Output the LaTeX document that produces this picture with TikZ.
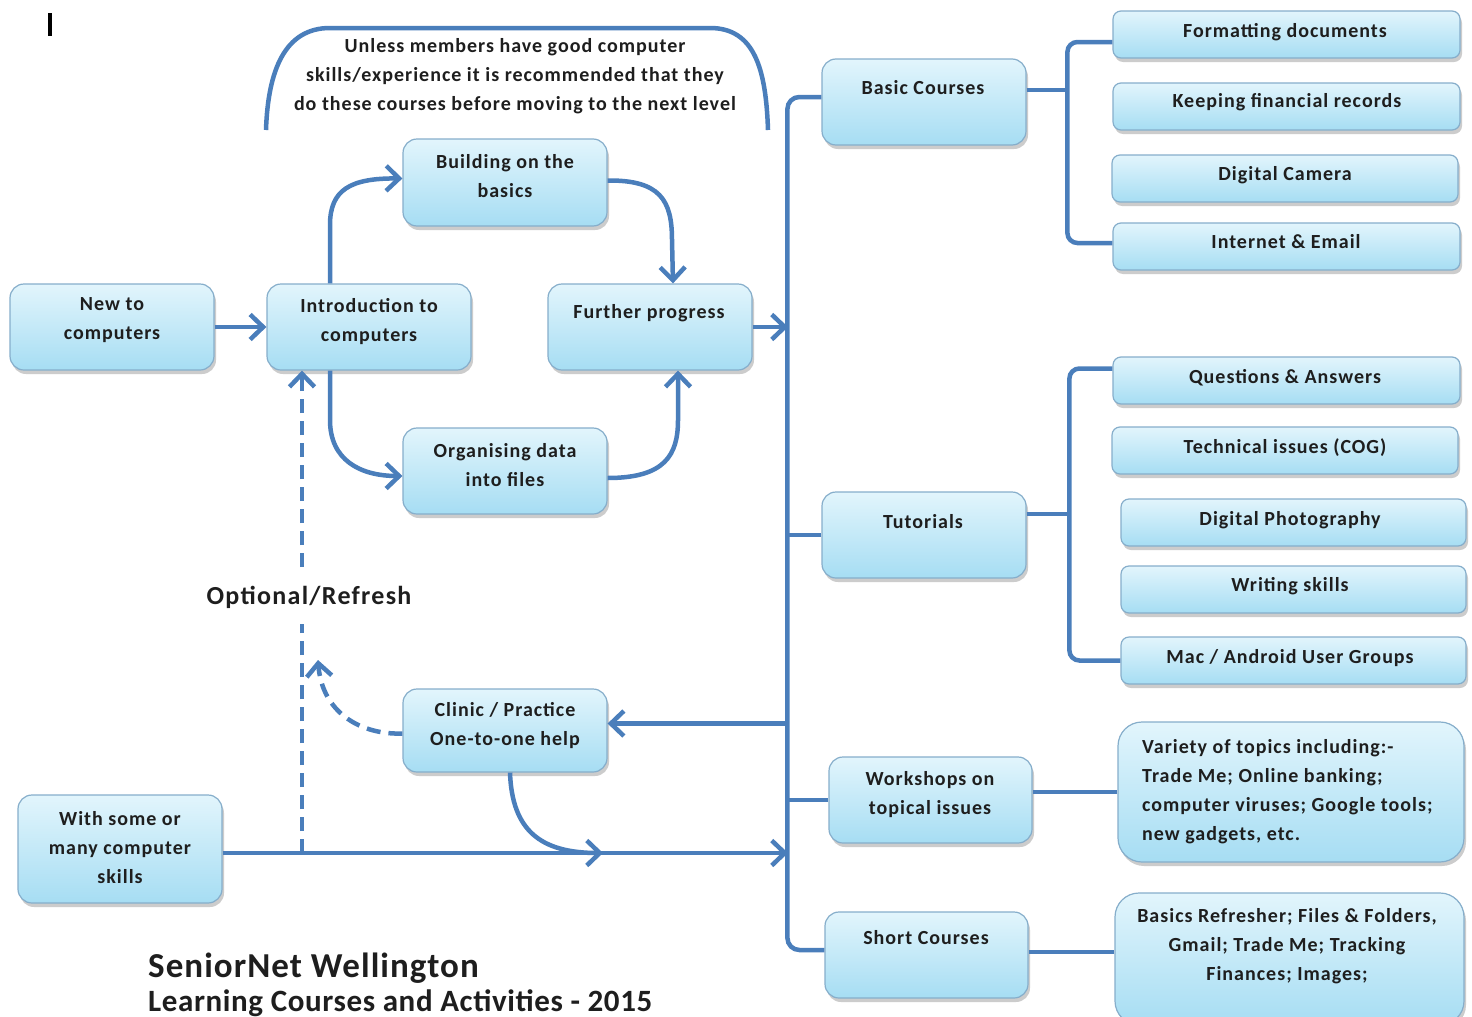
\documentclass[tikz,border=0pt]{standalone}
\usepackage{fontspec}
\setmainfont{Carlito}
\usetikzlibrary{arrows.meta,shadows,fit}
\definecolor{lineblue}{HTML}{4A7EBB}
\definecolor{boxborder}{HTML}{86AECB}
\definecolor{boxtop}{HTML}{E2F5FC}
\definecolor{boxbot}{HTML}{A6DDF3}
\definecolor{ink}{HTML}{1E1E1E}
\begin{document}
\begin{tikzpicture}[x=1pt,y=-1pt,
 box/.style={draw=boxborder, line width=1.2pt, rounded corners=14pt, top color=boxtop, bottom color=boxbot, inner sep=0pt,
   drop shadow={shadow xshift=2pt, shadow yshift=-4pt, opacity=0.4}},
 sbox/.style={box, rounded corners=8pt},
 bigbox/.style={box, rounded corners=24pt},
 txt/.style={font=\bfseries\fontsize{20}{29}\selectfont\addfontfeature{LetterSpace=5}, text=ink, align=center, inner sep=0pt},
 conn/.style={draw=lineblue, line width=4.5pt},
 arr/.style={conn, -{Straight Barb[length=13pt,width=25pt]}},
 dashln/.style={dash pattern=on 14pt off 8pt}]
\useasboundingbox (0,0) rectangle (1472,1017);
\fill[white] (0,0) rectangle (1472,1017);
% cursor
\draw[line width=3.5pt] (50,13) -- (50,36);
% left boxes
\node[box, fit={(10,284)(214,370)}] (new) {};
\node[txt] (newt) at (112,320) {New to\\computers};
\node[box, fit={(267,284)(471,370)}] (intro) {};
\node[txt] (introt) at (369,322) {Introduction to\\computers};
\node[box, fit={(403,139)(607,226)}] (build) {};
\node[txt] (buildt) at (505,176) {Building on the\\basics};
\node[box, fit={(548,284)(752,370)}] (fp) {};
\node[txt] (fpt) at (649,313) {Further progress};
\node[box, fit={(403,428)(607,514)}] (org) {};
\node[txt] (orgt) at (505,465) {Organising data\\into files};
\node[box, fit={(403,689)(607,772)}] (clinic) {};
\node[txt] (clinict) at (505,726) {Clinic / Practice\\One-to-one help};
\node[box, fit={(18,795)(222,903)}] (some) {};
\node[txt] (somet) at (120,848) {With some or\\many computer\\skills};
% middle boxes
\node[box, fit={(822,59)(1026,145)}] (bc) {};
\node[txt] (bct) at (923,88) {Basic Courses};
\node[box, fit={(822,492)(1026,578)}] (tu) {};
\node[txt] (tut) at (923,522) {Tutorials};
\node[box, fit={(829,757)(1032,843)}] (ws) {};
\node[txt] (wst) at (930,794.5) {Workshops on\\topical issues};
\node[box, fit={(825,912)(1028,998)}] (sc) {};
\node[txt] (sct) at (926,938) {Short Courses};
% right boxes
\node[sbox, fit={(1113,11)(1460,58)}] (fd) {};
\node[txt] (fdt) at (1285,32) {Formatting documents};
\node[sbox, fit={(1113,83)(1460,130)}] (kf) {};
\node[txt] (kft) at (1287,102) {Keeping financial records};
\node[sbox, fit={(1112,155)(1458,202)}] (dc) {};
\node[txt] (dct) at (1285,175) {Digital Camera};
\node[sbox, fit={(1113,223)(1460,270)}] (ie) {};
\node[txt] (iet) at (1286,242) {Internet \& Email};
\node[sbox, fit={(1113,357)(1460,404)}] (qa) {};
\node[txt] (qat) at (1285,378) {Questions \& Answers};
\node[sbox, fit={(1112,427)(1458,474)}] (ti) {};
\node[txt] (tit) at (1285,448) {Technical issues (COG)};
\node[sbox, fit={(1121,499)(1466,546)}] (dp) {};
\node[txt] (dpt) at (1290,520) {Digital Photography};
\node[sbox, fit={(1121,566)(1466,613)}] (wsk) {};
\node[txt] (wskt) at (1290,586) {Writing skills};
\node[sbox, fit={(1121,637)(1466,684)}] (ma) {};
\node[txt] (mat) at (1290,658) {Mac / Android User Groups};
\node[bigbox, fit={(1118,722)(1464,862)}] (var) {};
\node[txt, align=left, anchor=west] (vart) at (1142,792) {Variety of topics including:-\\Trade Me; Online banking;\\computer viruses; Google tools;\\new gadgets, etc.};
\node[bigbox, fit={(1115,893)(1464,1025)}] (bf) {};
\node[txt] (bft) at (1287,946) {Basics Refresher; Files \& Folders,\\Gmail; Trade Me; Tracking\\Finances; Images;};
% top note
\draw[conn] (266,130) .. controls (268,70) and (285,28) .. (330,28) -- (710,28) .. controls (755,28) and (766,70) .. (768,130);
\node[txt] (note) at (515,76) {Unless members have good computer\\skills/experience it is recommended that they\\do these courses before moving to the next level};
% spine
\coordinate (spx) at (788,0);
\draw[conn, rounded corners=12pt] ([yshift=5pt]bc.west) -- ++(-34,0) |- ([yshift=5pt]sc.west);
\draw[conn] (tu.west) -- (tu.west -| spx);
\draw[conn] (ws.west) -- (ws.west -| spx);
\draw[arr] (fp.east) -- (fp.east -| spx);
\draw[arr] ([yshift=7pt]clinic.east -| spx) -- ([yshift=7pt]clinic.east);
\draw[arr] ([yshift=-4pt]some.east) -- ([yshift=-4pt]some.east -| spx);
\draw[arr] ([xshift=5pt]clinic.south) .. controls (512,830) and (540,853) .. (603,853);
% flow arrows
\draw[arr] (new.east) -- (intro.west);
\draw[arr] ([xshift=-39pt]intro.north) -- (330,225) .. controls (330,190) and (350,178) .. ([yshift=4pt]build.west);
\draw[arr] ([yshift=2pt]build.east) .. controls (660,180) and (672,200) .. (672,240) -- ([xshift=23pt]fp.north);
\draw[arr] ([xshift=-39pt]intro.south) -- (330,420) .. controls (330,460) and (360,476) .. ([yshift=-5pt]org.west);
\draw[arr] ([yshift=-7pt]org.east) .. controls (665,478) and (678,455) .. (678,420) -- ([xshift=28pt]fp.south);
% dashed
\coordinate (dsrc) at (302,853);
\draw[arr, dashln] (dsrc) -- (dsrc |- intro.south);
\node[fill=white, text=ink, font=\bfseries\fontsize{26}{30}\selectfont\addfontfeature{LetterSpace=5}, inner xsep=2pt, inner ysep=16pt] (opt) at (309,597) {Optional/Refresh};
\draw[arr, dashln] ([yshift=-3pt]clinic.west) .. controls (360,735) and (322,712) .. (318,660);
% brackets
\draw[conn, rounded corners=10pt] ([yshift=-7.5pt]fd.west) -- ++(-45,0) |- ([yshift=3.5pt]ie.west);
\draw[conn] ([yshift=12pt]bc.east) -- ++(42,0);
\draw[conn, rounded corners=10pt] ([yshift=12pt]qa.west) -- ++(-43,0) |- (ma.west);
\draw[conn] ([yshift=21pt]tu.east) -- ++(44,0);
\draw[conn] (var.west) -- (var.west -| ws.east);
\draw[conn] ([yshift=7pt]bf.west) -- ([yshift=7pt]bf.west -| sc.east);
% title
\node[font=\bfseries\fontsize{35}{40}\selectfont\addfontfeature{LetterSpace=3}, anchor=base west, text=ink, inner sep=0pt] (title) at (148,977) {SeniorNet Wellington};
\node[font=\bfseries\fontsize{31}{36}\selectfont\addfontfeature{LetterSpace=2}, anchor=base west, text=ink, inner sep=0pt] (sub) at (148,1011) {Learning Courses and Activities - 2015};
\end{tikzpicture}
\end{document}
